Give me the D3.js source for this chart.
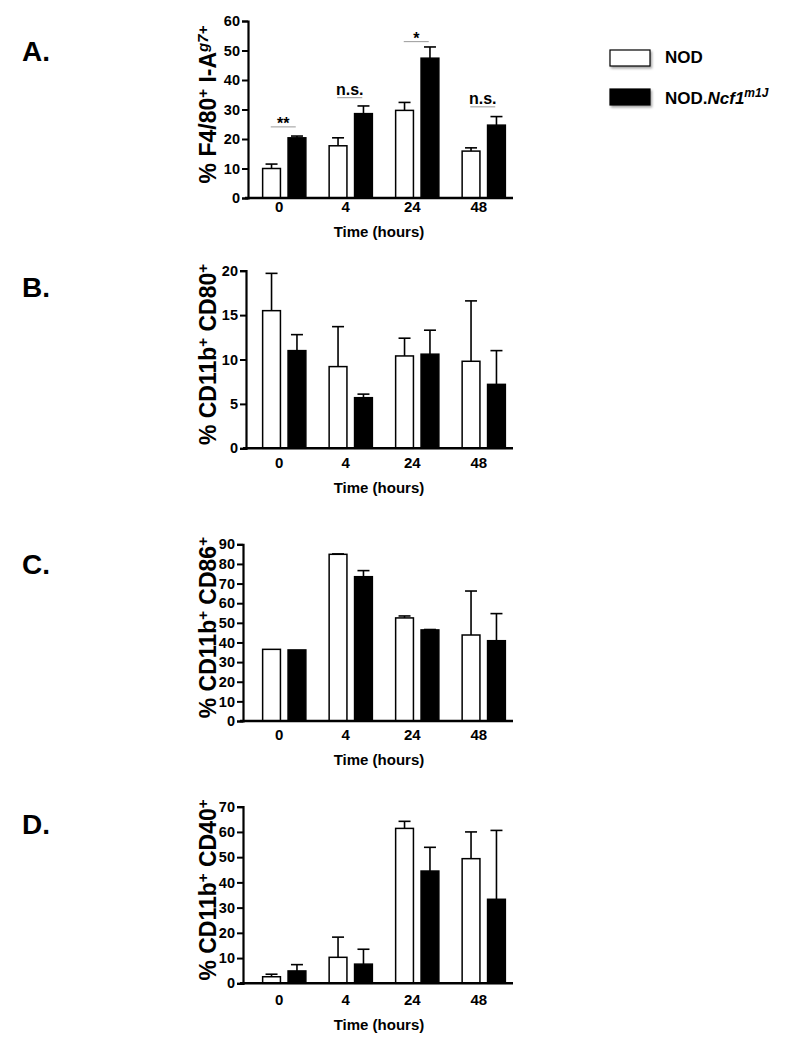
<!DOCTYPE html>
<html>
<head>
<meta charset="utf-8">
<script src="https://cdn.jsdelivr.net/npm/d3@7"></script>
<style>
  body { margin: 0; background: #fff; }
  svg text { font-family: "Liberation Sans", Arial, sans-serif; font-weight: bold; fill: #000; }
</style>
</head>
<body>
<svg id="chart" width="800" height="1038"></svg>
<script>
// Time points (hours)
const categories = ["0", "4", "24", "48"];
const groups = ["NOD", "NOD.Ncf1"];

// A. % F4/80+ I-Ag7+
const nodA = [10.0, 17.7, 29.7, 15.9];
const nodAErr = [1.5, 2.7, 2.7, 1.1];
const ncfA = [20.4, 28.6, 47.4, 24.7];
const ncfAErr = [0.6, 2.6, 3.8, 2.9];
const sigLabels = ["**", "n.s.", "*", "n.s."];
const sigLevels = [24.1, 34.0, 53.0, 30.9];

// B. % CD11b+ CD80+
const nodB = [15.5, 9.2, 10.4, 9.8];
const nodBErr = [4.2, 4.5, 2.0, 6.8];
const ncfB = [11.0, 5.7, 10.6, 7.2];
const ncfBErr = [1.8, 0.4, 2.7, 3.8];

// C. % CD11b+ CD86+
const nodC = [36.5, 84.9, 52.5, 43.8];
const nodCErr = [0, 0.2, 1.0, 22.4];
const ncfC = [36.2, 73.5, 46.4, 40.9];
const ncfCErr = [0, 3.1, 0.2, 13.8];

// D. % CD11b+ CD40+
const nodD = [2.6, 10.3, 61.4, 49.4];
const nodDErr = [1.0, 8.0, 2.8, 10.6];
const ncfD = [4.9, 7.6, 44.5, 33.3];
const ncfDErr = [2.5, 5.9, 9.4, 27.3];

const svg = d3.select("#chart");

// Shadow for the legend swatches
svg.append("defs").append("filter")
  .attr("id", "shadow")
  .attr("x", "-20%").attr("y", "-30%").attr("width", "150%").attr("height", "180%")
  .append("feDropShadow")
  .attr("dx", 1.5).attr("dy", 2).attr("stdDeviation", 1.2)
  .attr("flood-color", "#000").attr("flood-opacity", 0.35);

// Group positions are shared by every panel
const x = d3.scaleBand().domain(categories).range([251, 517])
  .paddingInner(0.35).paddingOuter(0.175);
const xIn = d3.scaleBand().domain(groups).range([0, x.bandwidth()]).paddingInner(0.3);

const panels = [
  { letter: "A.", letterY: 61, axisX: 248, top: 21, bottom: 198, max: 60, step: 10,
    tickY: 212, titleY: 237, label: "F4/80", label2: " I-A", sup2: "g7+",
    nod: nodA, nodErr: nodAErr, ncf: ncfA, ncfErr: ncfAErr, sig: true },
  { letter: "B.", letterY: 297, axisX: 246, top: 270.7, bottom: 448.3, max: 20, step: 5,
    tickY: 468, titleY: 493, label: "CD11b", label2: " CD80", sup2: "+",
    nod: nodB, nodErr: nodBErr, ncf: ncfB, ncfErr: ncfBErr },
  { letter: "C.", letterY: 574, axisX: 243, top: 544.3, bottom: 721, max: 90, step: 10,
    tickY: 740, titleY: 765, label: "CD11b", label2: " CD86", sup2: "+",
    nod: nodC, nodErr: nodCErr, ncf: ncfC, ncfErr: ncfCErr },
  { letter: "D.", letterY: 834, axisX: 243, top: 806.7, bottom: 983.3, max: 70, step: 10,
    tickY: 1005, titleY: 1030, label: "CD11b", label2: " CD40", sup2: "+",
    nod: nodD, nodErr: nodDErr, ncf: ncfD, ncfErr: ncfDErr }
];

panels.forEach((p) => {
  const g = svg.append("g");
  const y = d3.scaleLinear().domain([0, p.max]).range([p.bottom, p.top]);

  // Panel letter
  g.append("text").attr("x", 22).attr("y", p.letterY)
    .style("font-size", "28px").text(p.letter);

  // Bars
  const rows = categories.map((c, i) => [
    { c, grp: groups[0], v: p.nod[i], e: p.nodErr[i] },
    { c, grp: groups[1], v: p.ncf[i], e: p.ncfErr[i] }
  ]).flat();

  // Error bars (upper only) drawn under the bars
  const eb = g.selectAll("g.err").data(rows.filter((d) => d.e > 0)).enter()
    .append("g").attr("class", "err")
    .attr("transform", (d) => `translate(${x(d.c) + xIn(d.grp) + xIn.bandwidth() / 2},0)`);
  eb.append("line")
    .attr("y1", (d) => y(d.v)).attr("y2", (d) => y(d.v + d.e))
    .attr("stroke", "#000").attr("stroke-width", 1.6);
  eb.append("line")
    .attr("x1", -6).attr("x2", 6)
    .attr("y1", (d) => y(d.v + d.e)).attr("y2", (d) => y(d.v + d.e))
    .attr("stroke", "#000").attr("stroke-width", 1.6);

  g.selectAll("rect.bar").data(rows).enter().append("rect")
    .attr("class", "bar")
    .attr("x", (d) => x(d.c) + xIn(d.grp))
    .attr("width", xIn.bandwidth())
    .attr("y", (d) => y(d.v))
    .attr("height", (d) => y(0) - y(d.v))
    .attr("fill", (d) => (d.grp === "NOD" ? "#fff" : "#000"))
    .attr("stroke", "#000").attr("stroke-width", 1.5);

  // Y axis
  const yAxis = d3.axisLeft(y).tickValues(d3.range(0, p.max + 0.001, p.step))
    .tickSize(6).tickPadding(2).tickFormat(d3.format("d"));
  const ya = g.append("g").attr("transform", `translate(${p.axisX},0)`).call(yAxis);
  ya.select(".domain").attr("stroke-width", 2.2);
  ya.selectAll(".tick line").attr("stroke-width", 2);
  ya.selectAll(".tick text").style("font-size", "14.5px").style("font-family", null);

  // X axis line
  g.append("line").attr("x1", p.axisX - 3).attr("x2", 513)
    .attr("y1", y(0)).attr("y2", y(0))
    .attr("stroke", "#000").attr("stroke-width", 2.4);

  // Category labels
  g.selectAll("text.cat").data(categories).enter().append("text")
    .attr("class", "cat")
    .attr("x", (d) => x(d) + x.bandwidth() / 2 - 5)
    .attr("y", p.tickY)
    .attr("text-anchor", "middle")
    .style("font-size", "15px")
    .text((d) => d);

  g.append("text").attr("x", 379).attr("y", p.titleY)
    .attr("text-anchor", "middle").style("font-size", "15px")
    .text("Time (hours)");

  // Y axis title
  const yt = g.append("text")
    .attr("transform", `translate(216,${(p.top + p.bottom) / 2 - 5}) rotate(-90)`)
    .attr("text-anchor", "middle").style("font-size", "23px");
  yt.append("tspan").text("% " + p.label);
  yt.append("tspan").attr("dy", -8).style("font-size", "15px").text("+");
  yt.append("tspan").attr("dy", 8).text(p.label2);
  yt.append("tspan").attr("dy", -8).style("font-size", "15px")
    .style("font-style", p.sig ? "italic" : null).text(p.sup2);

  // Significance markers
  if (p.sig) {
    const sg = g.selectAll("g.sig").data(categories).enter().append("g")
      .attr("class", "sig")
      .attr("transform", (d) => `translate(${x(d) + x.bandwidth() / 2 - 1},0)`);
    sg.append("line")
      .attr("x1", -12.5).attr("x2", 12.5)
      .attr("y1", (d, i) => y(sigLevels[i])).attr("y2", (d, i) => y(sigLevels[i]))
      .attr("stroke", "#999").attr("stroke-width", 1);
    sg.append("text")
      .attr("text-anchor", "middle")
      .attr("y", (d, i) => y(sigLevels[i]) + (sigLabels[i].includes("*") ? 2 : -3))
      .style("font-size", "16px")
      .text((d, i) => sigLabels[i]);
  }
});

// Legend
const legend = svg.append("g");
const legendRows = [
  { grp: groups[0], fill: "#fff", y: 50 },
  { grp: groups[1], fill: "#000", y: 89 }
];
legend.selectAll("rect").data(legendRows).enter().append("rect")
  .attr("x", 610).attr("y", (d) => d.y).attr("width", 40).attr("height", 16)
  .attr("fill", (d) => d.fill).attr("stroke", "#000").attr("stroke-width", 1.2)
  .attr("filter", "url(#shadow)");
legend.append("text").attr("x", 665).attr("y", 63).style("font-size", "17px").text("NOD");
const lt = legend.append("text").attr("x", 665).attr("y", 104).style("font-size", "17px");
lt.append("tspan").text("NOD.");
lt.append("tspan").style("font-style", "italic").text("Ncf1");
lt.append("tspan").attr("dy", -7).style("font-size", "12px").style("font-style", "italic").text("m1J");
</script>
</body>
</html>
